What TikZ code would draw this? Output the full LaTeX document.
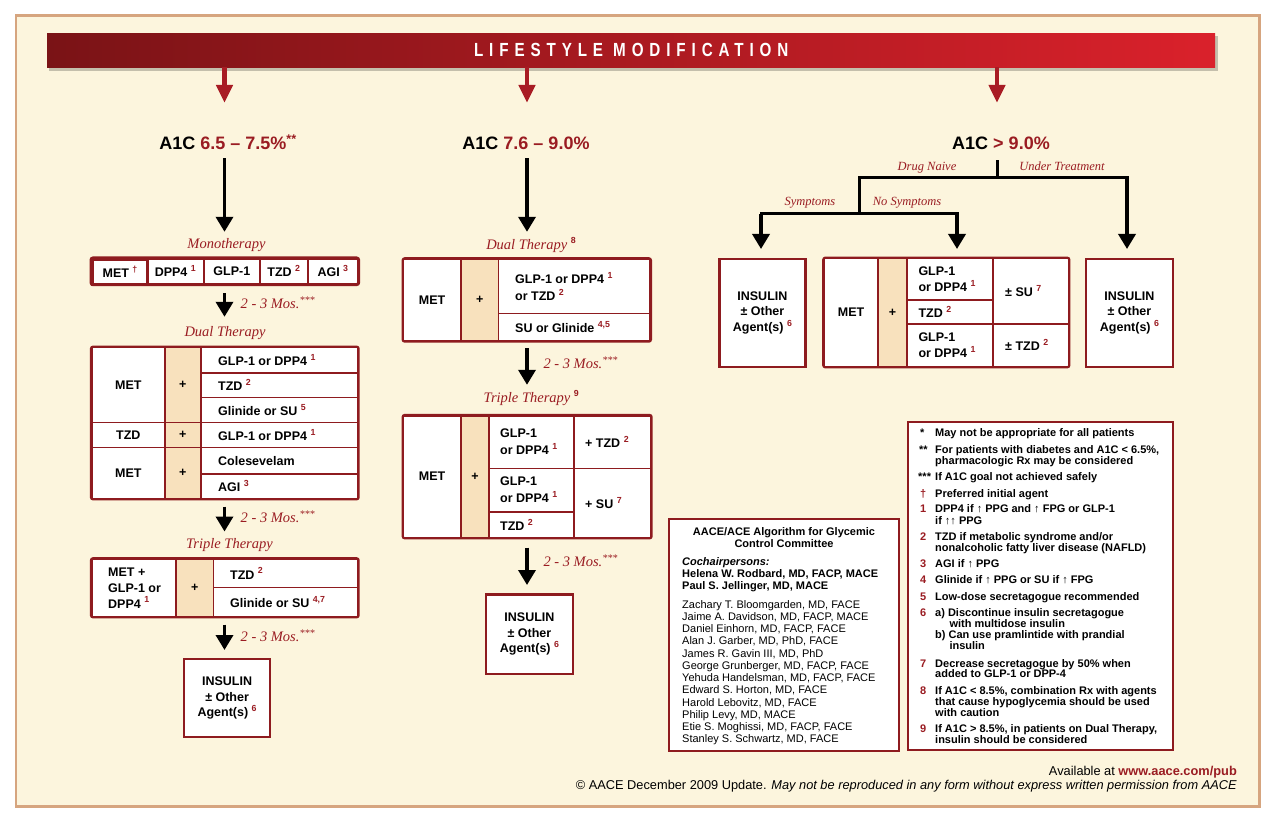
\documentclass[tikz,border=0pt]{standalone}
\usepackage{fontspec}
\setmainfont{Liberation Sans}
\newfontfamily\rserif{Liberation Serif}
\newfontfamily\arialf{Liberation Sans}
\newfontfamily\bannerfont{Liberation Sans}[LetterSpace=31,FakeStretch=0.8]
\usetikzlibrary{arrows.meta}
\definecolor{tred}{HTML}{9A1C22}
\definecolor{bred}{HTML}{8E1B1F}
\definecolor{creambg}{HTML}{FCF5DD}
\definecolor{plusc}{HTML}{F8E1BD}
\definecolor{tanb}{HTML}{D6A57F}
\definecolor{banL}{HTML}{7A1316}
\definecolor{banR}{HTML}{DA212B}
\definecolor{arrred}{HTML}{A81C24}
\newcommand\sx[1]{\raisebox{0.42em}{\arialf\upshape\fontsize{8.8}{9}\selectfont\bfseries\color{tred}#1}}
\newcommand\cellC[7][]{\node[cell,align=center,minimum width={#5-#3},minimum height={#6-#4},#1] (#2) at (#3,#4) {#7};}
\newcommand\cellL[8][]{\node[cell,minimum width={#5-#3},minimum height={#6-#4}] (#2) at (#3,#4) {};
  \node[celltext,#1] (#2t) at ([xshift=#7pt]#2.west) {#8};}
\newcommand\fnline[4]{\node[fnt] (#1) at (#2,#3) {#4};}
\newcommand\fnmark[3]{\node[fnt,text=tred] (#1) at (920,#2) {#3};}
\begin{document}
\begin{tikzpicture}[x=1pt,y=-1pt,
  cell/.style={draw=bred,line width=1.6pt,fill=white,inner sep=0pt,anchor=north west,font=\fontsize{12.5}{15.5}\selectfont\bfseries},
  celltext/.style={inner sep=0pt,anchor=west,align=left,font=\fontsize{12.5}{15.5}\selectfont\bfseries},
  insbox/.style={line width=2.2pt},
  hdr/.style={inner sep=0pt,anchor=base,text height=13pt,text depth=4pt,font=\fontsize{18}{20}\selectfont\bfseries},
  itl/.style={inner sep=0pt,anchor=base,text height=10pt,text depth=4pt,text=tred,font=\rserif\itshape\fontsize{14.5}{16}\selectfont},
  brl/.style={itl,font=\rserif\itshape\fontsize{12.5}{14}\selectfont},
  mos/.style={itl,anchor=base west},
  blk/.style={draw=black,line width=3.5pt,-{Triangle[width=17pt,length=15pt]}},
  tree/.style={draw=black,line width=3pt,line cap=rect},
  redarr/.style={draw=arrred,line width=4.5pt,-{Triangle[width=16pt,length=18pt]}},
  outl/.style={draw=bred,line width=2.2pt,rounded corners=2pt},
  fnt/.style={inner sep=0pt,anchor=base west,font=\fontsize{11}{12}\selectfont\bfseries},
  cmt/.style={inner sep=0pt,anchor=base west,font=\fontsize{11}{12}\selectfont},
  ctitle/.style={inner sep=0pt,anchor=base,font=\fontsize{11}{12}\selectfont\bfseries}
]
\useasboundingbox (0,0) rectangle (1280,829);
\fill[white] (0,0) rectangle (1280,829);
\draw[draw=tanb,line width=2.5pt,fill=creambg] (16,15.5) rectangle (1259.5,806.5);
% banner
\fill[black,opacity=0.22] (49,36) rectangle (1218,71);
\node[anchor=north west,minimum width=1168pt,minimum height=34pt,inner sep=0pt,left color=banL,right color=banR,text=white,font=\bannerfont\bfseries\fontsize{19}{20}\selectfont] (banner) at (47,33) {LIFESTYLE MODIFICATION};
\coordinate (cA) at (224.5,0);
\coordinate (cB) at (527,0);
\coordinate (cC) at (997,0);
% headers
\node[hdr] (a1cA) at (228,149.5) {A1C \textcolor{tred}{6.5 – 7.5\%\textsuperscript{**}}};
\node[hdr] (a1cB) at (526,149.5) {A1C \textcolor{tred}{7.6 – 9.0\%}};
\node[hdr] (a1cC) at (1001,149.5) {A1C \textcolor{tred}{> 9.0\%}};
\draw[redarr,shorten >=33.5pt] (banner.south -| cA) -- (a1cA.north -| cA);
\draw[redarr,shorten >=33.5pt] (banner.south -| cB) -- (a1cB.north -| cB);
\draw[redarr,shorten >=33.5pt] (banner.south -| cC) -- (a1cC.north -| cC);
% ---------- column A ----------
\node[itl] (monoL) at (226.5,249) {Monotherapy};
\cellC{m2}{146}{258}{203}{283}{DPP4 \sx{1}}
\cellC{m3}{203}{258}{259}{283}{GLP-1}
\cellC{m4}{259}{258}{307}{283}{TZD \sx{2}}
\cellC{m5}{307}{258}{357}{283}{AGI \sx{3}}
\cellC[line width=3pt]{m1}{91}{258}{146}{283}{MET \sx{†}}
\draw[outl,line width=3pt] (m1.north west) rectangle (m5.south east);
\node[mos] (mosA1) at (240.5,308.3) {2 - 3 Mos.\textsuperscript{***}};
\node[itl] (dualL) at (225,336) {Dual Therapy};
\cellC{d1L}{91}{346.7}{164}{421.7}{MET}
\cellC[fill=plusc]{d1P}{164}{346.7}{200}{421.7}{+}
\cellL{d1a}{200}{346.7}{357}{372}{18}{GLP-1 or DPP4 \sx{1}}
\cellL{d1b}{200}{372}{357}{396.7}{18}{TZD \sx{2}}
\cellL{d1c}{200}{396.7}{357}{421.7}{18}{Glinide or SU \sx{5}}
\cellC{d2L}{91}{421.7}{164}{446.7}{TZD}
\cellC[fill=plusc]{d2P}{164}{421.7}{200}{446.7}{+}
\cellL{d2a}{200}{421.7}{357}{446.7}{18}{GLP-1 or DPP4 \sx{1}}
\cellC{d3L}{91}{446.7}{164}{497.7}{MET}
\cellC[fill=plusc]{d3P}{164}{446.7}{200}{497.7}{+}
\cellL{d3a}{200}{446.7}{357}{473.3}{18}{Colesevelam}
\cellL{d3b}{200}{473.3}{357}{497.7}{18}{AGI \sx{3}}
\draw[outl] (d1L.north west) rectangle (d3b.south east);
\node[mos] (mosA2) at (240.5,522.7) {2 - 3 Mos.\textsuperscript{***}};
\node[itl] (tripL) at (229.5,548.3) {Triple Therapy};
\cellL[font=\fontsize{12.5}{16}\selectfont\bfseries]{t1L}{91}{558.3}{175}{615.7}{17}{MET +\\GLP-1 or\\DPP4 \sx{1}}
\cellC[fill=plusc]{t1P}{175}{558.3}{212.7}{615.7}{+}
\cellL{t1a}{212.7}{558.3}{357}{586.7}{17.3}{TZD \sx{2}}
\cellL{t1b}{212.7}{586.7}{357}{615.7}{17.3}{Glinide or SU \sx{4,7}}
\draw[outl] (t1L.north west) rectangle (t1b.south east);
\node[mos] (mosA3) at (240.5,641.7) {2 - 3 Mos.\textsuperscript{***}};
\cellC[insbox]{insA}{183}{658}{269}{736}{INSULIN\\± Other\\Agent(s) \sx{6}}
\draw[blk,shorten <=4.5pt,shorten >=7pt] (a1cA.south -| cA) -- (monoL.north -| cA);
\draw[blk,shorten <=7pt,shorten >=9pt] (m1.south -| cA) -- (dualL.north -| cA);
\draw[blk,shorten <=7.3pt,shorten >=6.6pt] (d3b.south -| cA) -- (tripL.north -| cA);
\draw[blk,shorten <=7.3pt,shorten >=8pt] (t1b.south -| cA) -- (insA.north -| cA);
% ---------- column B ----------
\node[itl] (dualBL) at (531,249.3) {Dual Therapy \sx{8}};
\cellC{e1L}{402.7}{258.3}{460}{340}{MET}
\cellC[fill=plusc]{e1P}{460}{258.3}{497.7}{340}{+}
\cellL[font=\fontsize{12.5}{17}\selectfont\bfseries]{e1a}{497.7}{258.3}{649.3}{312.7}{17.3}{GLP-1 or DPP4 \sx{1}\\or TZD \sx{2}}
\cellL{e1b}{497.7}{312.7}{649.3}{340}{17.3}{SU or Glinide \sx{4,5}}
\draw[outl] (e1L.north west) rectangle (e1b.south east);
\node[mos] (mosB1) at (543.3,368.3) {2 - 3 Mos.\textsuperscript{***}};
\node[itl] (tripBL) at (531.3,402.7) {Triple Therapy \sx{9}};
\cellC{f1L}{402.7}{415}{460}{536.7}{MET}
\cellC[fill=plusc]{f1P}{460}{415}{488.3}{536.7}{+}
\cellL[font=\fontsize{12.5}{17}\selectfont\bfseries]{f1a}{488.3}{415}{573.3}{467.7}{11.7}{GLP-1\\or DPP4 \sx{1}}
\cellL{f1b}{573.3}{415}{650}{467.7}{11.7}{+ TZD \sx{2}}
\cellL[font=\fontsize{12.5}{17}\selectfont\bfseries]{f1c}{488.3}{467.7}{573.3}{511}{11.7}{GLP-1\\or DPP4 \sx{1}}
\cellL{f1d}{488.3}{511}{573.3}{536.7}{11.7}{TZD \sx{2}}
\cellL{f1e}{573.3}{467.7}{650}{536.7}{11.7}{+ SU \sx{7}}
\draw[outl] (f1L.north west) rectangle (f1e.south east);
\node[mos] (mosB2) at (543.3,566.7) {2 - 3 Mos.\textsuperscript{***}};
\cellC[insbox]{insB}{485}{593.3}{571.7}{672.7}{INSULIN\\± Other\\Agent(s) \sx{6}}
\draw[blk,shorten <=4.5pt,shorten >=7.3pt] (a1cB.south -| cB) -- (dualBL.north -| cB);
\draw[blk,shorten <=6.7pt,shorten >=7.7pt] (e1b.south -| cB) -- (tripBL.north -| cB);
\draw[blk,shorten <=9.3pt,shorten >=8.3pt] (f1e.south -| cB) -- (insB.north -| cB);
% ---------- column C ----------
\node[brl] (lDN) at (927,170.7) {Drug Naive};
\node[brl] (lUT) at (1062,170.7) {Under Treatment};
\node[brl] (lSy) at (810,205.7) {Symptoms};
\node[brl] (lNS) at (907,205.7) {No Symptoms};
\cellC[insbox]{insC1}{718.3}{257.7}{804.3}{365.7}{INSULIN\\± Other\\Agent(s) \sx{6}}
\cellC{g1L}{823.3}{257.7}{877.3}{365.7}{MET}
\cellC[fill=plusc]{g1P}{877.3}{257.7}{906}{365.7}{+}
\cellL{g1a}{906}{257.7}{992.3}{299.3}{12.3}{GLP-1\\or DPP4 \sx{1}}
\cellL{g1b}{906}{299.3}{992.3}{323.3}{12.3}{TZD \sx{2}}
\cellL{g1c}{906}{323.3}{992.3}{365.7}{12.3}{GLP-1\\or DPP4 \sx{1}}
\cellL{g1d}{992.3}{257.7}{1067.7}{323.3}{12.7}{± SU \sx{7}}
\cellL{g1e}{992.3}{323.3}{1067.7}{365.7}{12.7}{± TZD \sx{2}}
\draw[outl] (g1L.north west) rectangle (g1e.south east);
\cellC[insbox]{insC2}{1085}{257.7}{1171.7}{365.7}{INSULIN\\± Other\\Agent(s) \sx{6}}
\coordinate (jTop) at (997,178);
\coordinate (jL) at (859,178);
\coordinate (jR) at (1127,178);
\coordinate (jL2) at (859,214);
\coordinate (jS) at (761,214);
\coordinate (jN) at (957,214);
\draw[tree,line cap=butt,shorten <=6.5pt] (a1cC.south -| cC) -- (jTop);
\draw[tree] (jR) -- (jL) -- (jL2);
\draw[tree] (jS) -- (jN);
\draw[blk,shorten >=8.7pt] (jS) -- (insC1.north -| jS);
\draw[blk,shorten >=8.7pt] (jN) -- (g1a.north -| jN);
\draw[blk,shorten >=8.7pt] (jR) -- (insC2.north -| jR);
% ---------- committee ----------
\node[draw=bred,line width=1.6pt,fill=white,anchor=north west,inner sep=0pt,minimum width=230pt,minimum height=232pt] (comm) at (668,518) {};
\node[ctitle] (ct1) at (784,535) {AACE/ACE Algorithm for Glycemic};
\node[ctitle] (ct2) at (784,547.5) {Control Committee};
\node[cmt,font=\fontsize{11}{12}\selectfont\bfseries\itshape] (cch) at (682,565.7) {Cochairpersons:};
\node[cmt,font=\fontsize{11}{12}\selectfont\bfseries] (cc1) at (682,577.7) {Helena W. Rodbard, MD, FACP, MACE};
\node[cmt,font=\fontsize{11}{12}\selectfont\bfseries] (cc2) at (682,589) {Paul S. Jellinger, MD, MACE};
\foreach \nm [count=\i from 0] in {{Zachary T. Bloomgarden, MD, FACE},{Jaime A. Davidson, MD, FACP, MACE},{Daniel Einhorn, MD, FACP, FACE},{Alan J. Garber, MD, PhD, FACE},{James R. Gavin III, MD, PhD},{George Grunberger, MD, FACP, FACE},{Yehuda Handelsman, MD, FACP, FACE},{Edward S. Horton, MD, FACE},{Harold Lebovitz, MD, FACE},{Philip Levy, MD, MACE},{Etie S. Moghissi, MD, FACP, FACE},{Stanley S. Schwartz, MD, FACE}}
  \node[cmt] (nm\i) at (682,{608.3+12.22*\i}) {\nm};
% ---------- footnotes ----------
\node[draw=bred,line width=1.6pt,fill=white,anchor=north west,inner sep=0pt,minimum width=265pt,minimum height=328pt] (fnbox) at (907,421) {};
\node[fnt] (k0) at (920,436) {*};
\fnline{f0}{935}{436}{May not be appropriate for all patients}
\node[fnt] (k1) at (919,453.6) {**};
\fnline{f1}{935}{453.6}{For patients with diabetes and A1C < 6.5\%,}
\fnline{f1b}{935}{464.3}{pharmacologic Rx may be considered}
\node[fnt] (k2) at (918,480.3) {***};
\fnline{f2}{935}{480.3}{If A1C goal not achieved safely}
\fnmark{k3}{497}{†}
\fnline{f3}{935}{497}{Preferred initial agent}
\fnmark{k4}{512.6}{1}
\fnline{f4}{935}{512.6}{DPP4 if ↑ PPG and ↑ FPG or GLP-1}
\fnline{f4b}{935}{524.3}{if ↑↑ PPG}
\fnmark{k5}{540.3}{2}
\fnline{f5}{935}{540.3}{TZD if  metabolic syndrome and/or}
\fnline{f5b}{935}{551.3}{nonalcoholic fatty liver disease (NAFLD)}
\fnmark{k6}{567.6}{3}
\fnline{f6}{935}{567.6}{AGI if ↑ PPG}
\fnmark{k7}{583.6}{4}
\fnline{f7}{935}{583.6}{Glinide if ↑ PPG or SU if ↑ FPG}
\fnmark{k8}{600.3}{5}
\fnline{f8}{935}{600.3}{Low-dose secretagogue recommended}
\fnmark{k9}{616}{6}
\fnline{f9}{935}{616}{a) Discontinue insulin secretagogue}
\fnline{f9b}{949.3}{627.6}{with multidose insulin}
\fnline{f9c}{935}{638.6}{b) Can use pramlintide with prandial}
\fnline{f9d}{949.3}{649.6}{insulin}
\fnmark{k10}{667}{7}
\fnline{f10}{935}{667}{Decrease secretagogue by 50\% when}
\fnline{f10b}{935}{677.6}{added to GLP-1 or DPP-4}
\fnmark{k11}{694.6}{8}
\fnline{f11}{935}{694.6}{If A1C < 8.5\%, combination Rx with agents}
\fnline{f11b}{935}{705.6}{that cause hypoglycemia should be used}
\fnline{f11c}{935}{716.6}{with caution}
\fnmark{k12}{732.6}{9}
\fnline{f12}{935}{732.6}{If A1C > 8.5\%, in patients on Dual Therapy,}
\fnline{f12b}{935}{743.6}{insulin should be considered}
% ---------- footer ----------
\node[inner sep=0pt,anchor=base east,font=\fontsize{12.8}{14}\selectfont] (avail) at (1237,775) {Available at \textbf{\textcolor{tred}{www.aace.com/pub}}};
\node[inner sep=0pt,anchor=base east,font=\fontsize{12.8}{14}\selectfont] (copyr) at (1237,789) {© AACE December 2009 Update. \textit{May not be reproduced in any form without express written permission from AACE}};
\end{tikzpicture}
\end{document}
